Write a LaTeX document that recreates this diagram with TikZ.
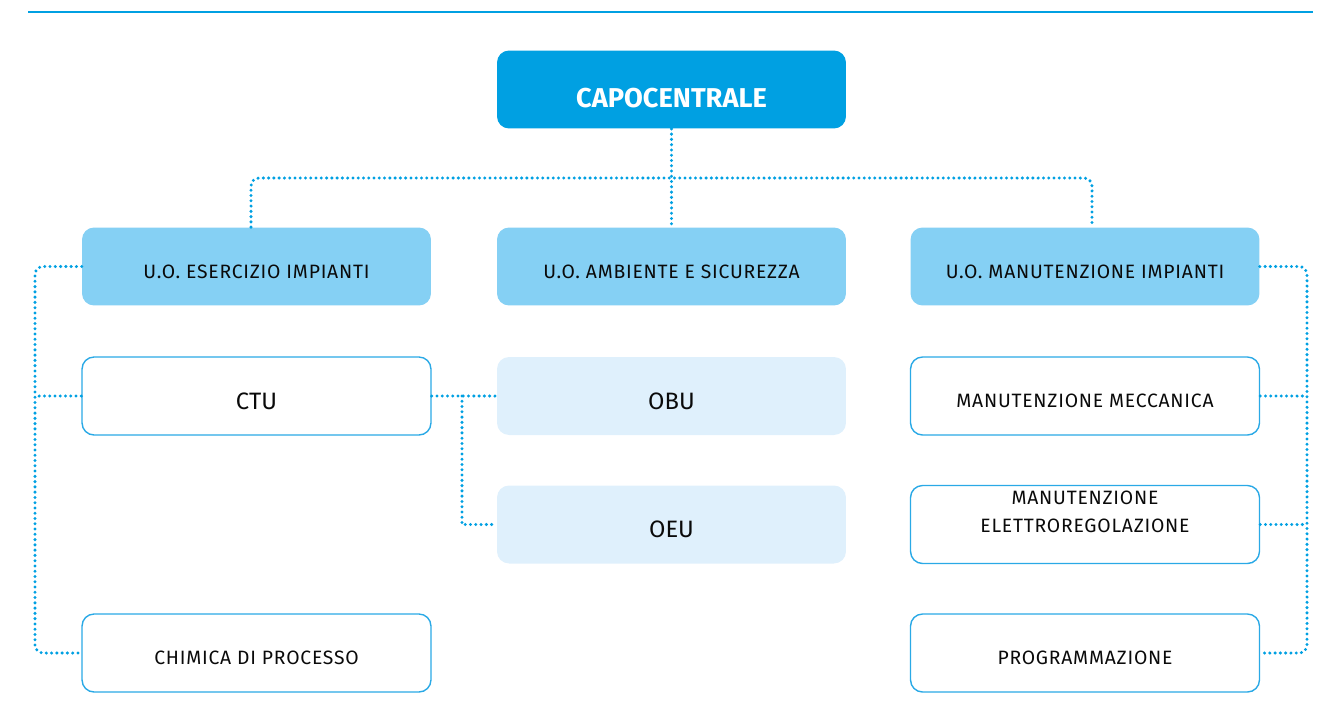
\documentclass[tikz,border=0pt]{standalone}
\usepackage{fontspec}
\setmainfont{Fira Sans}
\newfontfamily\spaced[LetterSpace=4]{Fira Sans}
\usetikzlibrary{positioning, calc}

\definecolor{capoblue}{HTML}{00A0E2}
\definecolor{uoblue}{HTML}{85D0F4}
\definecolor{paleblue}{HTML}{DFF0FC}
\definecolor{edgeblue}{HTML}{2AA9E6}
\definecolor{textgray}{HTML}{0A0A0A}

\begin{document}
\begin{tikzpicture}[x=0.02cm, y=-0.02cm]
		\tikzset{unit/.style={rectangle, rounded corners=0.24cm, minimum width=6.98cm, minimum height=1.56cm, inner sep=0, text=textgray, align=center, text height=13.4pt, text depth=0pt}}
		\tikzset{capobox/.style={unit, fill=capoblue, text=white, font=\fontsize{15.5}{18}\selectfont\bfseries, text height=20.6pt}}
		\tikzset{uobox/.style={unit, fill=uoblue, font=\spaced\fontsize{11}{12}\selectfont}}
		\tikzset{officebox/.style={unit, draw=edgeblue, line width=0.8pt, fill=white, font=\spaced\fontsize{11}{16.4}\selectfont}}
		\tikzset{palebox/.style={unit, fill=paleblue, font=\fontsize{13.5}{15}\selectfont, text height=15pt}}
		\tikzset{conn/.style={draw=capoblue, line width=1.9pt, line cap=round, dash pattern=on 0pt off 3pt}}
		\useasboundingbox (0,0) rectangle (1325,724);
		\draw[capoblue, line width=1.6pt] (28,12) -- (1313,12);
		% boxes
		\node[capobox] at (671.5, 89.5) (capo) {CAPOCENTRALE};
		\node[uobox] at (256.5, 266.5) (esercizio) {U.O. ESERCIZIO IMPIANTI};
		\node[uobox] at (671.5, 266.5) (ambiente) {U.O. AMBIENTE E SICUREZZA};
		\node[uobox] at (1085, 266.5) (manut) {U.O. MANUTENZIONE IMPIANTI};
		\node[officebox, font=\fontsize{13.5}{15}\selectfont, text height=15pt] at (256.5, 396) (ctu) {CTU};
		\node[palebox] at (671.5, 396) (obu) {OBU};
		\node[palebox] at (671.5, 524.5) (oeu) {OEU};
		\node[officebox] at (256.5, 653) (chimica) {CHIMICA DI PROCESSO};
		\node[officebox] at (1085, 396) (mecc) {MANUTENZIONE MECCANICA};
		\node[officebox, text height=9.5pt] at (1085, 524.5) (elettro) {MANUTENZIONE\\ELETTROREGOLAZIONE};
		\node[officebox] at (1085, 653) (prog) {PROGRAMMAZIONE};
		% rails
		\coordinate (bus) at (671.5, 178);
		\coordinate (lrail) at (35, 0);
		\coordinate (mrail) at (462, 0);
		\coordinate (rrail) at (1307, 0);
		% connectors
		\path[conn] (capo.south) -- (ambiente.north);
		\path[conn, rounded corners=0.16cm] ([xshift=-0.11cm]esercizio.north) |- (bus) -| ([xshift=0.14cm]manut.north);
		\path[conn, rounded corners=0.16cm] (esercizio.west) -- (esercizio.west -| lrail) -- (chimica.west -| lrail) -- (chimica.west);
		\path[conn] (ctu.west) -- (ctu.west -| lrail);
		\path[conn, rounded corners=0.16cm] (manut.east) -- (manut.east -| rrail) -- (prog.east -| rrail) -- (prog.east);
		\path[conn] (mecc.east) -- (mecc.east -| rrail);
		\path[conn] (elettro.east) -- (elettro.east -| rrail);
		\path[conn] (ctu.east) -- (obu.west);
		\path[conn] (ctu.east -| mrail) -- (oeu.west -| mrail) -- (oeu.west);
	\end{tikzpicture}
\end{document}
